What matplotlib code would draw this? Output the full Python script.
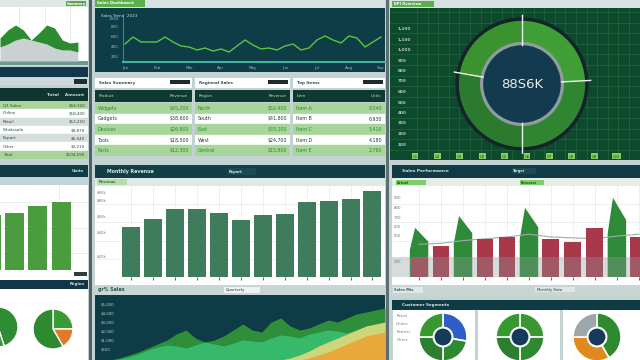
import matplotlib.pyplot as plt
from matplotlib.patches import Circle
import numpy as np

W, H = 640, 360

# ---- values ----
spark_top = [23, 31, 36, 31, 21, 28, 36, 33, 21, 18, 19]
spark_low = [14, 17, 21, 23, 21, 19, 17, 13, 11, 11, 9]

trend = [18, 25, 20, 20, 20, 25, 20, 16, 15, 12, 14, 11, 13, 10, 16, 22, 17,
         13, 14, 12, 16, 18, 12, 14, 22, 26, 22, 19, 26, 24, 15, 20, 25]
trend_months = ['Jan', 'Feb', 'Mar', 'Apr', 'May', 'Jun', 'Jul', 'Aug', 'Sep']
trend_scale = ['200', '400', '600', '800', '1000']

side_rows = ['Q1 Sales', 'Online', 'Retail', 'Wholesale', 'Export', 'Other', 'Total']
side_vals = ['$54,320', '$18,400', '$12,250', '$9,870', '$6,540', '$3,210', '$104,590']

table_titles = ['Sales Summary', 'Regional Sales', 'Top Items']
table_cols = [('Product', 'Revenue'), ('Region', 'Revenue'), ('Item', 'Units')]
table_names = [['Widgets', 'Gadgets', 'Devices', 'Tools', 'Parts'],
               ['North', 'South', 'East', 'West', 'Central'],
               ['Item A', 'Item B', 'Item C', 'Item D', 'Item E']]
table_vals = [['$45,200', '$38,600', '$26,900', '$18,500', '$12,300'],
              ['$52,400', '$41,800', '$33,100', '$24,700', '$15,900'],
              ['8,240', '6,930', '5,410', '4,180', '2,760']]

gauge_parts = [87, 93, 100, 80]
gauge_value = '88S6K'
gauge_scale = ['1,200', '1,100', '1,000', '900', '800', '700', '600',
               '500', '400', '300', '200', '100']
gauge_cats = ['Q1', 'Q2', 'Q3', 'Q4', 'Q5', 'Q6', 'Q7', 'Q8', 'Q9', 'Q10']

side_bars = [65, 67, 75, 80]
month_bars = [55, 64, 75, 75, 70, 63, 68, 69, 82, 84, 86, 95]
month_scale = [(93, '$90k'), (84, '$80k'), (66, '$60k'), (49, '$40k'), (22, '$20k')]

combo_red = [21, 34, 0, 42, 44, 0, 42, 38, 54, 0, 44]
combo_green = [54, 0, 67, 0, 0, 76, 0, 0, 0, 87, 0]
combo_line = [36, 37, 40, 42, 44, 47, 44, 43, 42, 45, 47]
combo_scale = [(87, '900'), (76, '800'), (65, '700'), (55, '600'), (45, '500'), (16, '200')]

flow_dark = [0, 2, 5, 8, 12, 16, 20, 26, 30, 22, 18, 20, 24, 30, 36, 30, 28, 38,
             42, 34, 30, 32, 36, 40, 38, 42, 46, 48, 50, 52]
flow_bright = [0, 1, 3, 6, 10, 13, 15, 14, 12, 15, 18, 16, 14, 17, 20, 19, 18, 22,
               25, 24, 22, 26, 28, 30, 29, 27, 30, 32, 30, 28]
flow_yellow = [0] * 19 + [2, 5, 9, 14, 18, 22, 26, 30, 34, 36, 38]
flow_orange = [0] * 21 + [2, 5, 8, 12, 16, 20, 24, 26, 28]
flow_scale = ['$5,000', '$4,000', '$3,000', '$2,000', '$1,000', '$500']

pie_left = [45, 55]
pie_right = [90, 60, 210]
donut_sets = [[100, 80, 90, 90], [90, 90, 90, 90], [150, 120, 90]]
donut_colors = [['#2f5fc6', '#2e8a2e', '#2b7f2f', '#37982f'],
                ['#38972f', '#2e8a2e', '#2b7f2f', '#37982f'],
                ['#2e8a2e', '#e08a1e', '#9ba7a8']]
segment_names = ['Retail', 'Online', 'Partner', 'Direct']

fig = plt.figure(figsize=(6.4, 3.6), dpi=100)
fig.patch.set_facecolor('#c3d2d3')


def box(x, y, w, h, fc='none', z=1):
    # axes placed in pixel units, origin top-left
    ax = fig.add_axes([x / W, 1 - (y + h) / H, w / W, h / H], zorder=z)
    ax.set_facecolor(fc)
    for s in ax.spines.values():
        s.set_visible(False)
    ax.set_xticks([])
    ax.set_yticks([])
    return ax


def tag(x, y, w, h, text, fc, tc, size=3.2, ha='left', z=3):
    ax = box(x, y, w, h, fc, z)
    ax.text(0.04 if ha == 'left' else 0.96, 0.5, text, ha=ha, va='center',
            color=tc, fontsize=size, fontweight='bold', transform=ax.transAxes)
    return ax


# dividers
box(89, 0, 3, 360, '#4f6367', z=0.5)
box(386, 0, 3, 360, '#5c6e72', z=0.5)

# ---------- top left: area chart ----------
box(0, 0, 88, 7, '#dfe7e7')
tag(66, 1, 20, 5, 'Summary', '#57a84a', 'white', 2.6)
ax = box(0, 7, 88, 54, 'white', z=2)
xs = range(len(spark_top))
ax.fill_between(xs, 0, spark_low, color='#c9d1d1', lw=0)
ax.fill_between(xs, spark_low, spark_top, color='#2c8a2f', lw=0)
ax.set_xlim(0, 11.3)
ax.set_ylim(0, 54)
ax.set_xticks([2.5, 5.8, 9])
ax.tick_params(length=0, labelbottom=False)
ax.grid(True, axis='x', color='#e3e9e9', lw=0.6)
ax.set_axisbelow(True)
box(0, 61, 88, 4, '#6d9a97')
box(0, 67, 88, 10, '#13364b')
box(0, 78, 88, 7, '#cfd9d9')
box(74, 79, 13, 5, '#1d2f33', z=3)

ax = tag(0, 88, 88, 13, 'Total    Amount', '#0f3531', '#c9d8d4', 3.2, ha='right')
ax = box(0, 101, 88, 58, 'white', z=2)
row_colors = ['#a8d49a', 'white', '#d6dedd', 'white', '#d6dedd', 'white', '#a8d49a']
ax.set_ylim(len(side_rows), 0)
ax.set_xlim(0, 1)
for i, (name, val) in enumerate(zip(side_rows, side_vals)):
    ax.axhspan(i, i + 1, color=row_colors[i])
    ax.text(0.03, i + 0.5, name, va='center', fontsize=3, color='#2f4a44')
    ax.text(0.97, i + 0.5, val, va='center', ha='right', fontsize=3, color='#2f4a44')

# ---------- top middle: line chart ----------
box(95, 0, 290, 8, '#d9e2e2')
tag(95, 0, 50, 7, 'Sales Dashboard', '#5cb04c', 'white', 2.8)
panel = box(95, 8, 290, 64, '#0e3c47')
panel.text(0.02, 0.86, 'Sales Trend  ' + '2023', color='#cfe0e0', fontsize=3,
           transform=panel.transAxes)
ax = box(123, 17, 262, 45, 'none', z=2)
ax.plot(range(len(trend)), trend, color='#5cc63e', lw=1)
ax.set_xlim(-0.25, 32.5)
ax.set_ylim(0, 45)
ax.spines['left'].set_visible(True)
ax.spines['left'].set_color('#2f8f7a')
ax.spines['bottom'].set_visible(True)
ax.spines['bottom'].set_color('#3fb59a')
ax.spines['bottom'].set_linewidth(1.5)
ax.set_yticks([5, 15, 25, 35, 43], trend_scale)
ax.set_xticks(range(0, 33, 4), trend_months)
ax.tick_params(length=0, labelsize=3, colors='#9fb5b8', pad=3)

# ---------- top middle: three tables ----------
for k, (x0, w0) in enumerate([(95, 97), (195, 95), (293, 92)]):
    t = tag(x0, 78, w0, 10, table_titles[k], 'white', '#3c4f52', 3)
    box(x0 + w0 - 22, 80, 20, 4, '#1d2b2f', z=4)
    hd = box(x0, 90, w0, 12, '#0f3a31', z=2)
    hd.text(0.04, 0.5, table_cols[k][0], va='center', fontsize=3, color='#c6d8d2',
            transform=hd.transAxes)
    hd.text(0.96, 0.5, table_cols[k][1], va='center', ha='right', fontsize=3,
            color='#c6d8d2', transform=hd.transAxes)
    ax = box(x0, 103, w0, 53, 'white', z=2)
    ax.set_ylim(5, 0)
    ax.set_xlim(0, 1)
    for i in range(5):
        green = i % 2 == 0
        ax.axhspan(i, i + 1, color='#a7d59a' if green else 'white')
        c = '#2f8a2a' if green else '#2a3a3c'
        ax.text(0.03, i + 0.5, table_names[k][i], va='center', fontsize=3.4, color=c)
        ax.text(0.97, i + 0.5, table_vals[k][i], va='center', ha='right',
                fontsize=3.4, color=c)

# ---------- top right: gauge ----------
box(390, 0, 250, 8, '#d9e2e2')
tag(392, 1, 42, 6, 'KPI Overview', '#5cb04c', 'white', 2.6)
ax = box(390, 8, 250, 152, '#0d4a2d')
ax.set_xlim(0, 250)
ax.set_ylim(152, 0)
for gx in np.arange(27, 250, 10.6):
    ax.axvline(gx, color='#22663f', lw=0.5)
for gy in np.arange(4, 152, 10.6):
    ax.axhline(gy, color='#22663f', lw=0.5)
for i, lab in enumerate(gauge_scale):
    ax.text(8, 21 + 10.5 * i, lab, va='center', fontsize=3, color='#b5c9bd',
            fontweight='bold')
for i, lab in enumerate(gauge_cats):
    ax.text(25 + 22.4 * i, 148, lab, ha='center', va='center', fontsize=2.6,
            color='#10401f', bbox=dict(boxstyle='square,pad=0.25', fc='#86cf5e', ec='none'))

dax = box(452, 14, 140, 140, 'none', z=3)
gauge_colors = ['#3f9e35', '#2f8530', '#2c7a2e', '#3a932f']
dax.pie(gauge_parts, radius=1.0, startangle=90, counterclock=False,
        colors=gauge_colors, wedgeprops=dict(width=0.36, lw=0))
dax.add_patch(Circle((0, 0), 1.02, fill=False, ec='#15242b', lw=2.5))
dax.add_patch(Circle((0, 0), 0.66, fc='#8f9d9f', ec='none'))
dax.add_patch(Circle((0, 0), 0.61, fc='#133a4e', ec='none'))
edges = 90 - np.cumsum([0] + gauge_parts[:-1])
for a in np.radians(edges):
    dax.plot([0.62 * np.cos(a), 1.08 * np.cos(a)], [0.62 * np.sin(a), 1.08 * np.sin(a)],
             color='#eef5ee', lw=1)
dax.text(0, 0, gauge_value, ha='center', va='center', fontsize=9.5, color='#e6eef0')
dax.set_xlim(-1.1, 1.1)
dax.set_ylim(-1.1, 1.1)

# ---------- middle left: bars ----------
tag(0, 165, 88, 12, 'Units', '#0f3b45', '#cfe0e0', 3, ha='right')
box(0, 177, 88, 8, '#c5d4d4')
box(0, 185, 88, 95, 'white')
ax = box(0, 185, 88, 85, 'none', z=2)
ax.bar(range(len(side_bars)), side_bars, width=0.81, color='#4b9c3e', zorder=2)
ax.set_xlim(0.383, 4.13)
ax.set_ylim(0, 100)
ax.set_xticks([2.88])
ax.set_yticks([20, 50, 80])
ax.tick_params(length=0, labelbottom=False, labelleft=False)
ax.grid(True, color='#e3e8e8', lw=0.5)
ax.set_axisbelow(True)
box(74, 272, 13, 4, '#2d3e42', z=3)
tag(0, 280, 88, 9, 'Region', '#13354a', '#cfe0e0', 2.8, ha='right')

# ---------- middle centre: monthly bars ----------
tag(95, 165, 290, 13, 'Monthly Revenue', '#123e47', '#d8e8e6', 3.4)
tag(228, 168, 28, 7, 'Report', '#1a4a52', '#d8e8e6', 2.6, z=4)
box(95, 178, 290, 8, '#dfe9e6')
tag(97, 179, 30, 6, 'Revenue', '#b5dcab', '#2e7a3a', 2.6)
box(95, 186, 290, 99, 'white')
ax = box(95, 186, 290, 91, 'none', z=2)
ax.bar(range(len(month_bars)), month_bars, width=0.82, color='#3e7c5b', zorder=2)
ax.set_xlim(-1.64, 11.57)
ax.set_ylim(0, 100)
ax.set_yticks([20, 40, 60, 80])
ax.set_xticks(range(len(month_bars)))
ax.tick_params(axis='y', length=0, labelleft=False)
ax.tick_params(axis='x', length=2, color='#606a6a', labelbottom=False)
ax.grid(True, color='#e6eaea', lw=0.5)
ax.set_axisbelow(True)
for v, lab in month_scale:
    ax.text(-1.55, v, lab, va='center', fontsize=2.8, color='#6f7a78')
box(95, 285, 290, 10, '#c9d5d5')
ax = box(95, 285, 290, 10, 'none', z=3)
ax.text(0.01, 0.5, 'gr% Sales', va='center', fontsize=3.4, color='#1f5a3a',
        fontweight='bold', transform=ax.transAxes)
tag(224, 287, 36, 6, 'Quarterly', '#eef2f2', '#6a7878', 2.6, z=4)

# ---------- bottom centre: layered area ----------
panel = box(95, 295, 290, 65, '#0e3c46')
for i, lab in enumerate(flow_scale):
    panel.text(0.02, 0.86 - i * 0.14, lab, fontsize=2.8, color='#b7cccc',
               va='center', transform=panel.transAxes)
ax = box(110, 297, 275, 63, 'none', z=2)
xs = range(len(flow_dark))
for series, color in [(flow_dark, '#2f8e3a'), (flow_bright, '#37b96c'),
                      (flow_yellow, '#cdd67a'), (flow_orange, '#e9a83c')]:
    ax.fill_between(xs, 0, series, color=color, lw=0)
ax.set_xlim(0, 29)
ax.set_ylim(0, 63)

# ---------- middle right: combo chart ----------
tag(392, 165, 248, 13, 'Sales Performance', '#113a45', '#d8e8e6', 3.2)
tag(512, 168, 24, 6, 'Target', '#1a4a52', '#d8e8e6', 2.4, z=4)
box(392, 178, 248, 8, '#e4eee6')
tag(396, 180, 30, 5, 'Actual', '#7fcf6a', '#1f5a2a', 2.4)
tag(520, 180, 24, 5, 'Forecast', '#7fcf6a', '#1f5a2a', 2.4)
box(392, 186, 248, 99, 'white')
ax = box(392, 186, 248, 91, 'none', z=2)
for i, v in enumerate(combo_green):
    if v:
        ax.fill([i - 0.42, i - 0.42, i - 0.18, i + 0.42, i + 0.42],
                [0, v * 0.55, v, v * 0.72, 0], color='#2f8a3a', zorder=2, lw=0)
ax.plot(range(len(combo_line)), combo_line, color='#a2aaaa', lw=0.8, zorder=2.2)
ax.bar(range(len(combo_red)), combo_red, width=0.77, color='#a8384a', zorder=2.5)
ax.axhspan(0, 22, color='#8f9a98', alpha=0.35, zorder=3, lw=0)
ax.set_xlim(-1.23, 10.05)
ax.set_ylim(0, 100)
ax.set_xticks(range(len(combo_red)))
ax.set_yticks([20, 40, 60, 80])
ax.tick_params(axis='y', length=0, labelleft=False)
ax.tick_params(axis='x', length=2, color='#606a6a', labelbottom=False)
ax.grid(True, color='#e6eaea', lw=0.5)
ax.set_axisbelow(True)
for v, lab in combo_scale:
    ax.text(-1.15, v, lab, va='center', fontsize=2.8, color='#6f7a78')
box(392, 285, 248, 12, '#c9d5d5')
tag(393, 287, 30, 6, 'Sales Mix', '#dfe8e8', '#3c5a55', 2.6)
tag(535, 287, 40, 5, 'Monthly Data', '#dfe8e8', '#6a7878', 2.4)

# ---------- bottom right: donuts ----------
tag(392, 300, 248, 10, 'Customer Segments', '#0f3b44', '#d8e8e6', 3)
for x0, w0 in [(393, 82), (478, 82), (563, 77)]:
    box(x0, 310, w0, 50, 'white')
cell = box(393, 310, 40, 50, 'none', z=2)
for i, name in enumerate(segment_names):
    cell.text(0.08, 0.88 - i * 0.16, name, fontsize=2.8, color='#7a8686',
              va='center', transform=cell.transAxes)
for cx, vals, cols in zip([443, 520, 597], donut_sets, donut_colors):
    dax = box(cx - 25, 312, 50, 50, 'none', z=3)
    dax.pie(vals, radius=1.0, startangle=90, counterclock=False, colors=cols,
            wedgeprops=dict(width=0.6, edgecolor='white', lw=1.2))
    dax.add_patch(Circle((0, 0), 0.42, fc='white', ec='none'))
    dax.add_patch(Circle((0, 0), 0.35, fc='#153a5a', ec='none'))
    dax.set_xlim(-1.04, 1.04)
    dax.set_ylim(-1.04, 1.04)

# ---------- bottom left: pies ----------
box(0, 289, 88, 71, 'white')
for cx, cy, vals, cols in [(-2, 327, pie_left, ['#2e8d32', '#379a36']),
                           (53, 329, pie_right, ['#3a9a34', '#e07a28', '#2e8a2e'])]:
    pax = box(cx - 22, cy - 22, 44, 44, 'none', z=3)
    pax.pie(vals, radius=1.0, startangle=90, counterclock=False, colors=cols,
            wedgeprops=dict(edgecolor='white', lw=1))
    pax.set_xlim(-1.1, 1.1)
    pax.set_ylim(-1.1, 1.1)

fig.savefig('out.png', dpi=100, facecolor=fig.get_facecolor())
